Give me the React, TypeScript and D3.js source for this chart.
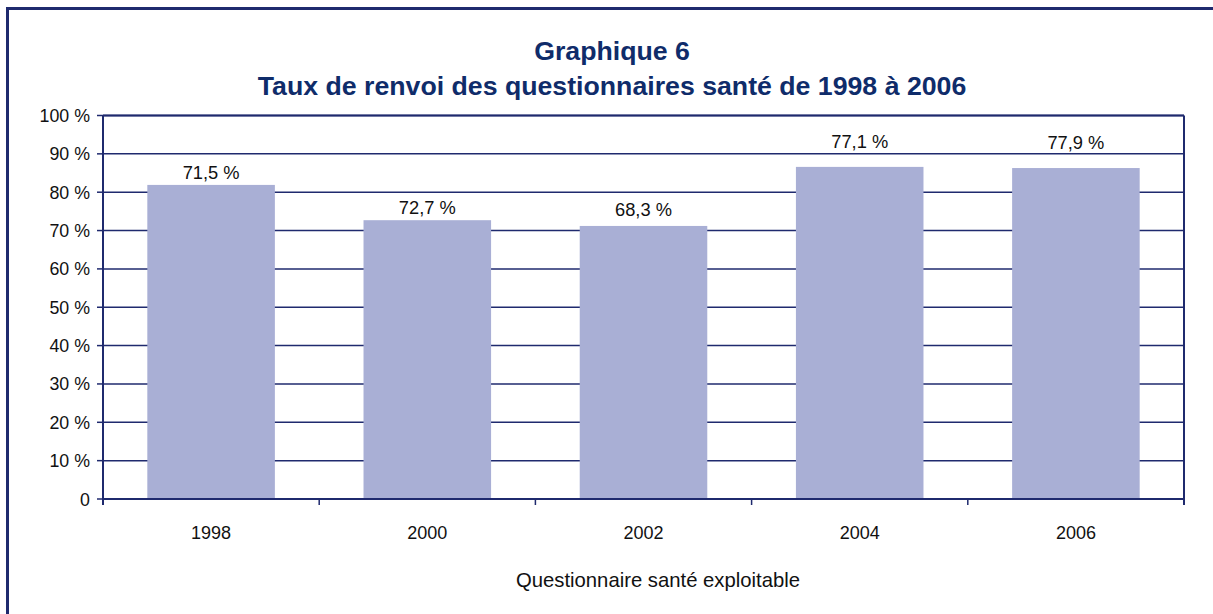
import React from 'react';
import * as d3 from 'd3';

const years = ['1998', '2000', '2002', '2004', '2006'];
// bar heights as drawn (percent of the y axis)
const barValues = [81.9, 72.7, 71.2, 86.6, 86.3];
// the printed labels
const labelTexts = ['71,5 %', '72,7 %', '68,3 %', '77,1 %', '77,9 %'];
const yTicks = [0, 10, 20, 30, 40, 50, 60, 70, 80, 90, 100];

const W = 1213;
const H = 614;
const navy = '#1f2a6e';
const titleColor = '#0f2c6a';
const barColor = '#a9afd5';
const font = 'Liberation Sans, Arial, sans-serif';

export default function App() {
  const left = 103, right = 1184, top = 115.5, bottom = 499;

  const x = d3.scaleBand<string>().domain(years).range([left, right]).paddingInner(0.41).paddingOuter(0.205);
  const band = d3.scaleBand<string>().domain(years).range([left, right]);
  const y = d3.scaleLinear().domain([0, 100]).range([bottom, top]);

  // label lift above each bar, in px (the original labels are not evenly placed)
  const lift = [6, 6, 9.5, 19, 19];

  return (
    <svg width={W} height={H} style={{ position: 'fixed', left: 0, top: 0 }} fontFamily={font}>
      <rect x={0} y={0} width={W} height={H} fill="white" />
      {/* outer frame */}
      <rect x={7.5} y={8.5} width={W + 20} height={H + 20} fill="none" stroke={navy} strokeWidth={3} />

      <text x={612} y={60} textAnchor="middle" fontSize={26.7} fontWeight="bold" fill={titleColor}>Graphique 6</text>
      <text x={612} y={95} textAnchor="middle" fontSize={26.7} fontWeight="bold" fill={titleColor}>
        Taux de renvoi des questionnaires santé de 1998 à 2006
      </text>

      {/* gridlines */}
      {yTicks.map(t => (
        <line key={'g' + t} x1={left} x2={right} y1={y(t)} y2={y(t)} stroke={navy} strokeWidth={1.5} />
      ))}

      {/* bars */}
      {years.map((yr, i) => (
        <rect key={yr} x={x(yr)} y={y(barValues[i])} width={x.bandwidth()} height={y(0) - y(barValues[i])} fill={barColor} />
      ))}

      {/* labels */}
      {years.map((yr, i) => (
        <text key={'l' + yr} x={(x(yr) ?? 0) + x.bandwidth() / 2} y={y(barValues[i]) - lift[i]} textAnchor="middle" fontSize={18.3} fill="#111">
          {labelTexts[i]}
        </text>
      ))}

      {/* axes and frame */}
      <line x1={left} x2={left} y1={top} y2={bottom + 6} stroke={navy} strokeWidth={2} />
      <line x1={right} x2={right} y1={top} y2={bottom + 6} stroke={navy} strokeWidth={2} />
      <line x1={left} x2={right} y1={top} y2={top} stroke={navy} strokeWidth={2} />
      <line x1={left} x2={right} y1={bottom} y2={bottom} stroke={navy} strokeWidth={2} />

      {yTicks.map(t => (
        <g key={'t' + t}>
          <line x1={left - 6} x2={left} y1={y(t)} y2={y(t)} stroke={navy} strokeWidth={1.5} />
          <text x={90} y={y(t) + 6.5} textAnchor="end" fontSize={17.8} fill="#111">{t === 0 ? '0' : `${t} %`}</text>
        </g>
      ))}

      {years.map(yr => (
        <g key={'x' + yr}>
          <line x1={band(yr)} x2={band(yr)} y1={bottom} y2={bottom + 6} stroke={navy} strokeWidth={1.5} />
          <text x={(band(yr) ?? 0) + band.bandwidth() / 2} y={539} textAnchor="middle" fontSize={18} fill="#111">{yr}</text>
        </g>
      ))}

      <text x={658} y={587} textAnchor="middle" fontSize={20.3} fill="#111">Questionnaire santé exploitable</text>
    </svg>
  );
}
